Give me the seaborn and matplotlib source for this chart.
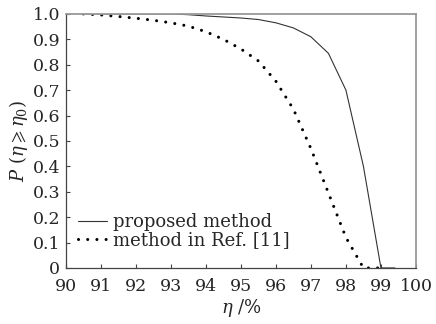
import matplotlib
matplotlib.use('Agg')
import matplotlib.pyplot as plt
import pandas as pd
import seaborn as sns

# efficiency threshold eta (%) and exceedance probability
eta = [90.5, 91.0, 91.5, 92.0, 92.5, 93.0, 93.5, 94.0, 94.5, 95.0,
       95.5, 96.0, 96.5, 97.0, 97.5, 98.0, 98.5, 99.0, 99.4]
p_proposed = [1.0, 1.0, 1.0, 1.0, 1.0, 1.0, 0.997, 0.992, 0.988, 0.984,
              0.978, 0.965, 0.945, 0.91, 0.845, 0.70, 0.40, 0.0, 0.0]
eta_ref = [90.5, 91.0, 91.5, 92.0, 92.5, 93.0, 93.5, 94.0, 94.5, 95.0,
           95.5, 96.0, 96.5, 97.0, 97.5, 98.0, 98.5, 99.0]
p_ref = [1.0, 0.996, 0.99, 0.983, 0.975, 0.965, 0.952, 0.93, 0.90, 0.862,
         0.815, 0.735, 0.625, 0.47, 0.295, 0.12, 0.0, 0.0]
labels = ['proposed method', 'method in Ref. [11]']

sns.set_style('white')
plt.rcParams['font.family'] = ['DejaVu Serif']
plt.rcParams['mathtext.fontset'] = 'dejavuserif'

fig = plt.figure(figsize=(4.36, 3.24), dpi=100)
ax = fig.add_axes([0.151, 0.173, 0.803, 0.784])

sns.lineplot(x=eta, y=p_proposed, ax=ax, color='#333333', lw=0.8, label=labels[0])
sns.lineplot(x=eta_ref, y=p_ref, ax=ax, color='black', lw=2.2,
             linestyle=(0, (0.01, 3)), dash_capstyle='round', label=labels[1])

ax.set_xlim(90, 100)
ax.set_ylim(0, 1.0)
ax.set_xticks(range(90, 101))
ax.set_yticks([i / 10 for i in range(11)])
ax.set_yticklabels(['0'] + ['%.1f' % (i / 10) for i in range(1, 11)])
ax.tick_params(bottom=True, left=True, direction='in', length=3, width=0.8,
               color='#444444', labelsize=12.5)
ax.tick_params(axis='x', pad=7)
ax.tick_params(axis='y', pad=4)

for s in ['left', 'bottom']:
    ax.spines[s].set_color('#444444')
    ax.spines[s].set_linewidth(0.9)
for s in ['top', 'right']:
    ax.spines[s].set_color('#999999')
    ax.spines[s].set_linewidth(1.3)

ax.set_xlabel(r'$\eta$ /%', fontsize=13, labelpad=2)
ax.set_ylabel(r'$P\ (\eta \geqslant \eta_0)$', fontsize=13, labelpad=2)

ax.legend(loc='lower left', bbox_to_anchor=(0.005, 0.03), frameon=False,
          fontsize=13, handlelength=1.6, handletextpad=0.3,
          labelspacing=0.0, borderaxespad=0.2)

fig.savefig('out.png', dpi=100)
